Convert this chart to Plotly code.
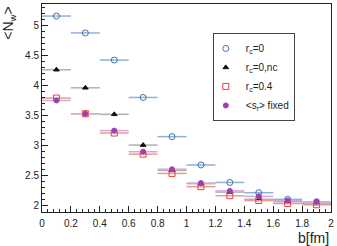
import plotly.graph_objects as go

b = [0.1, 0.3, 0.5, 0.7, 0.9, 1.1, 1.3, 1.5, 1.7, 1.9]
bin_half = [0.1] * 10
rc0 = [5.15, 4.87, 4.42, 3.80, 3.15, 2.68, 2.39, 2.22, 2.11, 2.07]
rc0_nc = [4.26, 3.96, 3.52, 3.01, 2.59, 2.37, 2.23, 2.11, 2.07, 2.04]
rc04 = [3.79, 3.53, 3.21, 2.86, 2.54, 2.32, 2.17, 2.09, 2.04, 2.02]
sr_fixed = [3.75, 3.53, 3.25, 2.90, 2.61, 2.38, 2.25, 2.16, 2.09, 2.07]
x_ticks = [0, 0.2, 0.4, 0.6, 0.8, 1, 1.2, 1.4, 1.6, 1.8, 2]
x_tick_text = ["0", "0.2", "0.4", "0.6", "0.8", "1", "1.2", "1.4", "1.6", "1.8", "2"]

series = [
    ("r<sub>c</sub>=0", rc0, "circle-open", "#3d72ad", "#8fb2d6", 6),
    ("r<sub>c</sub>=0,nc", rc0_nc, "triangle-up", "#111111", "#b0b0b0", 5),
    ("r<sub>c</sub>=0.4", rc04, "square-open", "#e0443c", "#ec9a94", 6),
    ("&lt;s<sub>r</sub>&gt; fixed", sr_fixed, "circle", "#a040b0", "#d4a8dc", 5),
]

fig = go.Figure()
for name, ys, sym, col, ecol, sz in series:
    fig.add_trace(go.Scatter(
        x=b, y=ys, mode="markers", name=name,
        marker=dict(symbol=sym, color=col, size=sz, line=dict(color=col, width=1)),
        error_x=dict(type="data", array=bin_half, color=ecol, thickness=1.5, width=0),
    ))

axis_common = dict(
    showline=True, linecolor="#222", linewidth=1, mirror=True,
    ticks="inside", ticklen=6, tickcolor="#222", showgrid=False, zeroline=False,
    tickfont=dict(size=10, color="#222"), ticklabeloverflow="allow",
)
fig.update_xaxes(range=[0, 2], tickmode="array", tickvals=x_ticks, ticktext=x_tick_text,
                 ticklabelstandoff=2,
                 minor=dict(ticks="inside", ticklen=3, tickmode="linear", tick0=0,
                            dtick=0.04, tickcolor="#222"),
                 **axis_common)
fig.update_yaxes(range=[1.9, 5.35], dtick=0.5, tick0=2,
                 minor=dict(ticks="inside", ticklen=3, dtick=0.1, tickcolor="#222"),
                 **axis_common)

fig.update_layout(
    width=337, height=246,
    margin=dict(l=42, r=4, t=3, b=34),
    paper_bgcolor="white", plot_bgcolor="white",
    font=dict(family="Liberation Sans, Arial, sans-serif", color="#222"),
    showlegend=True,
    legend=dict(x=0.591, y=0.861, xanchor="left", yanchor="top",
                bordercolor="#444", borderwidth=1, bgcolor="white",
                font=dict(size=10), itemwidth=30, tracegroupgap=0,
                indentation=-8, traceorder="normal"),
    annotations=[
        dict(text="&lt;N<sub>w</sub>&gt;", xref="paper", yref="paper",
             x=-0.115, y=1.0, xanchor="center", yanchor="top",
             textangle=-90, showarrow=False, font=dict(size=14)),
        dict(text="b[fm]", xref="paper", yref="paper",
             x=1.0, y=-0.078, xanchor="right", yanchor="top",
             showarrow=False, font=dict(size=14)),
    ],
)

fig.write_html("out.html",
               config={"displayModeBar": False},
               post_script="document.body.style.margin='0';document.body.style.overflow='hidden';")
